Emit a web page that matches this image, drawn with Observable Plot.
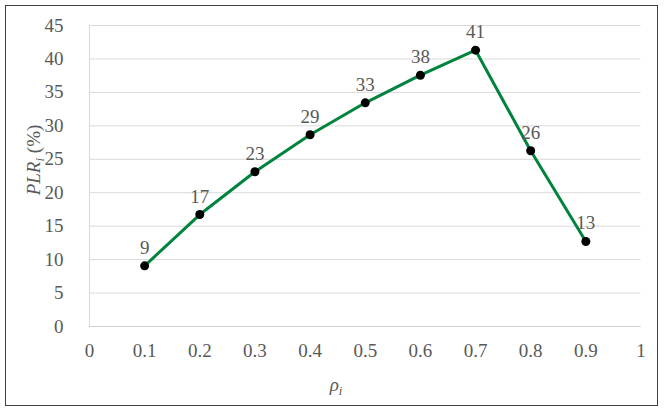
<!DOCTYPE html>
<html>
<head>
<meta charset="utf-8">
<script src="https://cdn.jsdelivr.net/npm/d3@7"></script>
<script src="https://cdn.jsdelivr.net/npm/@observablehq/plot@0.6"></script>
<style>
  html, body { margin: 0; padding: 0; background: #fff; }
  #wrap { position: relative; width: 664px; height: 412px; }
  #border { position: absolute; left: 5px; top: 5px; width: 651px; height: 399px; border: 1.5px solid #404040; pointer-events: none; }
  #wrap svg, #wrap svg text, #wrap svg tspan { font-family: "Liberation Serif", "Times New Roman", serif !important; }
</style>
</head>
<body>
<div id="wrap"><div id="border"></div></div>
<script>
const rho = [0.1, 0.2, 0.3, 0.4, 0.5, 0.6, 0.7, 0.8, 0.9];
const plr = [9.07, 16.74, 23.13, 28.66, 33.44, 37.57, 41.31, 26.27, 12.71];
const labels = ["9", "17", "23", "29", "33", "38", "41", "26", "13"];
const xTicks = [0, 0.1, 0.2, 0.3, 0.4, 0.5, 0.6, 0.7, 0.8, 0.9, 1];
const yTicks = [0, 5, 10, 15, 20, 25, 30, 35, 40, 45];

const data = rho.map((r, i) => ({rho: r, plr: plr[i], label: labels[i]}));
const textColor = "#595959";
const fontFamily = "Liberation Serif, Times New Roman, serif";

const chart = Plot.plot({
  width: 664,
  height: 412,
  marginLeft: 89,
  marginRight: 23.5,
  marginTop: 25,
  marginBottom: 86,
  style: {fontFamily, fontSize: "19px", color: textColor, background: "transparent"},
  x: {domain: [0, 1], ticks: xTicks, tickFormat: d => String(d), label: null},
  y: {domain: [0, 45], ticks: yTicks, tickFormat: d => String(d), label: null},
  marks: [
    Plot.gridY(yTicks, {stroke: "#d9d9d9", strokeOpacity: 1, strokeWidth: 1}),
    Plot.ruleX([0], {stroke: "#d9d9d9", strokeWidth: 1}),
    Plot.ruleY([0], {stroke: "#d0d0d0", strokeWidth: 1}),
    Plot.axisX(xTicks, {tickSize: 0, tickPadding: 17, tickFormat: d => String(d), fill: textColor, fontSize: 19, label: null}),
    Plot.axisY(yTicks, {tickSize: 0, tickPadding: 26, tickFormat: d => String(d), fill: textColor, fontSize: 19, label: null}),
    Plot.line(data, {x: "rho", y: "plr", stroke: "#00843d", strokeWidth: 3}),
    Plot.dot(data, {x: "rho", y: "plr", r: 4.5, fill: "#000", stroke: "none"}),
    Plot.text(data, {x: "rho", y: "plr", text: "label", dy: -12, lineAnchor: "bottom", textAnchor: "middle", fill: textColor, fontSize: 19})
  ]
});

const svg = d3.select(chart);
// y axis title
const yt = svg.append("text")
  .attr("transform", "translate(40,160) rotate(-90)")
  .attr("text-anchor", "middle")
  .attr("fill", textColor)
  .attr("font-size", 19);
yt.append("tspan").attr("font-style", "italic").text("PLR");
yt.append("tspan").attr("font-style", "italic").attr("font-size", 13).attr("dy", 4).text("i");
yt.append("tspan").attr("dy", -4).text(" (%)");
// x axis title
const xt = svg.append("text")
  .attr("x", 336).attr("y", 391)
  .attr("text-anchor", "middle")
  .attr("fill", textColor)
  .attr("font-size", 19);
xt.append("tspan").attr("font-style", "italic").text("ρ");
xt.append("tspan").attr("font-style", "italic").attr("font-size", 13).attr("dy", 4).text("i");

document.getElementById("wrap").prepend(chart);
chart.style.position = "absolute";
chart.style.left = "0";
chart.style.top = "0";
</script>
</body>
</html>
